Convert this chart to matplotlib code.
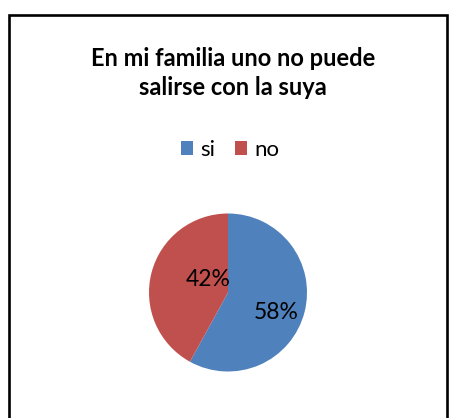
import matplotlib
matplotlib.use("Agg")
import matplotlib.pyplot as plt
from matplotlib.patches import Rectangle, Patch

plt.rcParams['font.family'] = ['Lato', 'DejaVu Sans']

title = "En mi familia uno no puede\nsalirse con la suya"
labels = ["si", "no"]
values = [58, 42]
colors = ["#4F81BD", "#C0504D"]
# where the percent labels sit, in units of the pie radius (excel placement)
label_pos = [(0.61, -0.25), (-0.25, 0.16)]

fig = plt.figure(figsize=(4.5, 4.18), dpi=100)

# outer chart border (bottom edge is cut off in the original)
fig.patches.append(Rectangle((9/450, -0.05), 438/450, 0.05 + 1 - 15/418,
                             transform=fig.transFigure, fill=False,
                             edgecolor="black", linewidth=1.9))

fig.text(233/450, 1 - 73/418, title, ha="center", va="center",
         fontsize=17, fontweight="bold", linespacing=1.28)

handles = [Patch(facecolor=c, edgecolor="none") for c in colors]
fig.legend(handles, labels, loc="center", bbox_to_anchor=(230/450, 1 - 150/418),
           ncol=2, frameon=False, fontsize=16, handlelength=0.55, handleheight=0.55,
           handletextpad=0.3, columnspacing=0.9)

cx, cy, r = 228/450, 1 - 292.5/418, 79
ax = fig.add_axes([cx - r/450, cy - r/418, 2*r/450, 2*r/418])
wedges, texts, autotexts = ax.pie(values, colors=colors, startangle=90,
                                  counterclock=False, autopct="%1.0f%%",
                                  textprops={"fontsize": 16.5},
                                  wedgeprops={"linewidth": 0})
for t, p in zip(autotexts, label_pos):
    t.set_position(p)
ax.set_xlim(-1, 1)
ax.set_ylim(-1, 1)
ax.set_aspect("equal")

fig.savefig("out.png", dpi=100)
